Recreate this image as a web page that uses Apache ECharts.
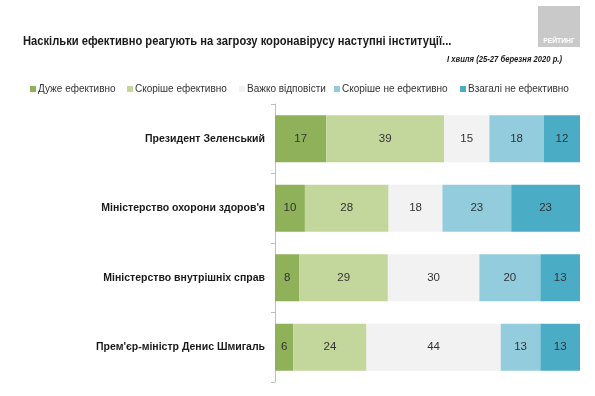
<!DOCTYPE html>
<html>
<head>
<meta charset="utf-8">
<script src="https://cdn.jsdelivr.net/npm/echarts@6/dist/echarts.min.js"></script>
<style>
  html, body { margin: 0; padding: 0; background: #ffffff; }
  #main { width: 595px; height: 396px; }
</style>
</head>
<body>
<div id="main"></div>
<script>
var categories = [
  'Президент Зеленський',
  "Міністерство охорони здоров'я",
  'Міністерство внутрішніх справ',
  "Прем'єр-міністр Денис Шмигаль"
];
var seriesNames = ['Дуже ефективно', 'Скоріше ефективно', 'Важко відповісти', 'Скоріше не ефективно', 'Взагалі не ефективно'];
var veryEffective = [17, 10, 8, 6];
var ratherEffective = [39, 28, 29, 24];
var hardToSay = [15, 18, 30, 44];
var ratherNot = [18, 23, 20, 13];
var notAtAll = [12, 23, 13, 13];
var colors = ['#8fb15a', '#c3d69b', '#f2f2f2', '#93cddd', '#4bacc6'];

var FONT = '"Liberation Sans", Arial, sans-serif';
// позиції пунктів легенди (ліворуч)
var legendLeft = [25, 122, 234, 329, 455];

function getOption() {
  var raw = [veryEffective, ratherEffective, hardToSay, ratherNot, notAtAll];
  var totals = categories.map(function (c, i) {
    return raw.reduce(function (s, arr) { return s + arr[i]; }, 0);
  });
  var series = raw.map(function (arr, k) {
    return {
      name: seriesNames[k],
      type: 'bar',
      stack: 'all',
      barWidth: 47,
      itemStyle: { color: colors[k] },
      label: {
        show: true,
        position: 'inside',
        color: '#333333',
        fontFamily: FONT,
        fontSize: 11.5,
        formatter: function (p) { return arr[p.dataIndex]; }
      },
      // довжина сегмента нормована до 100%
      data: arr.map(function (v, i) { return v / totals[i] * 100; })
    };
  });

  var legends = seriesNames.map(function (name, k) {
    return {
      top: 79,
      left: legendLeft[k],
      itemWidth: 6,
      itemHeight: 6,
      icon: 'rect',
      selectedMode: false,
      textStyle: { fontSize: 10, color: '#333333', fontFamily: FONT, padding: [0, 0, 0, -3] },
      data: [name]
    };
  });

  return {
    backgroundColor: '#ffffff',
    animation: false,
    textStyle: { fontFamily: FONT },
    graphic: [{
      type: 'text',
      x: 23, y: 41,
      scaleX: 0.86,
      style: {
        text: 'Наскільки ефективно реагують на загрозу коронавірусу наступні інституції...',
        fill: '#1a1a1a',
        font: 'bold 13px ' + FONT,
        align: 'left',
        verticalAlign: 'middle'
      }
    }, {
      type: 'text',
      x: 562, y: 60,
      scaleX: 0.85,
      style: {
        text: 'І хвиля (25-27 березня 2020 р.)',
        fill: '#1a1a1a',
        font: 'italic bold 9px ' + FONT,
        align: 'right',
        verticalAlign: 'middle'
      }
    }, {
      type: 'rect',
      x: 538, y: 6,
      shape: { width: 42, height: 41 },
      style: { fill: '#c9c9c9' }
    }, {
      type: 'text',
      x: 559, y: 41,
      scaleX: 0.9,
      style: {
        text: 'РЕЙТИНГ',
        fill: '#ffffff',
        font: 'bold 7.5px ' + FONT,
        align: 'center',
        verticalAlign: 'middle'
      }
    }],
    legend: legends,
    grid: {
      left: 275,
      right: 15,
      top: 104,
      bottom: 14
    },
    xAxis: {
      type: 'value',
      min: 0,
      max: 100,
      show: false
    },
    yAxis: {
      type: 'category',
      inverse: true,
      data: categories,
      axisLine: { show: true, lineStyle: { color: '#bfbfbf' } },
      axisTick: { show: true, length: 4, lineStyle: { color: '#bfbfbf' } },
      axisLabel: {
        margin: 10,
        fontSize: 10.5,
        fontWeight: 'bold',
        color: '#1a1a1a',
        fontFamily: FONT
      }
    },
    series: series
  };
}

var chart = echarts.init(document.getElementById('main'), null, { renderer: 'canvas' });
chart.setOption(getOption());
</script>
</body>
</html>
